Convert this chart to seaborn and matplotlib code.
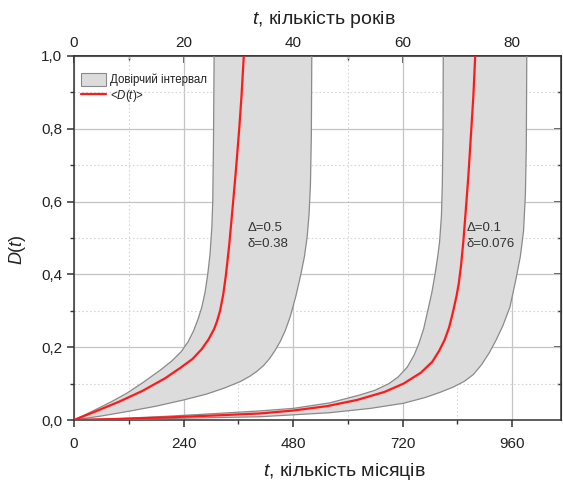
import matplotlib
matplotlib.use('Agg')
import numpy as np
import pandas as pd
import seaborn as sns
import matplotlib.pyplot as plt
from matplotlib.patches import Patch
from matplotlib.lines import Line2D
from matplotlib.ticker import MultipleLocator, FixedLocator, FuncFormatter, NullFormatter

# ---------------- data ----------------
# Delta = 0.5 curve (months, D)
mean1_t = [0, 50, 100, 150, 200, 235, 260, 280, 295, 307, 313, 320, 327, 333, 340, 348, 355, 362, 367, 372]
mean1_d = [0, 0.025, 0.051, 0.08, 0.115, 0.145, 0.168, 0.195, 0.222, 0.25, 0.27, 0.3, 0.345, 0.4, 0.48, 0.59, 0.69, 0.8, 0.89, 1.0]
upper1_t = [0, 40, 80, 115, 150, 189, 215, 235, 250, 262, 272, 280, 287, 293, 298, 302, 304, 305.5, 307]
upper1_d = [0, 0.024, 0.049, 0.073, 0.102, 0.137, 0.163, 0.188, 0.215, 0.245, 0.278, 0.31, 0.35, 0.4, 0.455, 0.53, 0.6, 0.75, 1.0]
lower1_t = [0, 60, 120, 180, 240, 290, 330, 365, 385, 400, 415, 428, 440, 452, 463, 474, 486, 497, 505, 511, 515, 518, 520, 521]
lower1_d = [0, 0.011, 0.024, 0.038, 0.055, 0.071, 0.088, 0.106, 0.12, 0.133, 0.149, 0.168, 0.19, 0.216, 0.246, 0.285, 0.34, 0.4, 0.45, 0.505, 0.565, 0.645, 0.78, 1.0]

# Delta = 0.1 curve
mean2_t = [0, 100, 200, 300, 408, 480, 554, 620, 680, 722, 760, 785, 800, 812, 822, 830, 838, 843, 848, 853, 858, 864, 870, 875, 879]
mean2_d = [0, 0.003, 0.007, 0.012, 0.018, 0.026, 0.038, 0.055, 0.077, 0.1, 0.13, 0.16, 0.19, 0.22, 0.255, 0.295, 0.34, 0.375, 0.425, 0.49, 0.57, 0.67, 0.79, 0.89, 1.0]
upper2_t = [0, 100, 200, 300, 408, 481, 560, 627, 660, 690, 710, 730, 745, 755, 766, 775, 784, 791, 797, 801, 805, 807, 808.5, 809]
upper2_d = [0, 0.004, 0.01, 0.017, 0.025, 0.032, 0.047, 0.069, 0.082, 0.1, 0.118, 0.145, 0.178, 0.208, 0.25, 0.3, 0.35, 0.4, 0.45, 0.49, 0.56, 0.65, 0.8, 1.0]
lower2_t = [0, 200, 408, 560, 650, 722, 770, 802, 830, 855, 875, 893, 910, 925, 940, 955, 968, 978, 985, 989, 991, 992]
lower2_d = [0, 0.004, 0.009, 0.02, 0.032, 0.046, 0.062, 0.076, 0.09, 0.106, 0.125, 0.152, 0.185, 0.22, 0.26, 0.31, 0.385, 0.45, 0.52, 0.62, 0.75, 1.0]

annot_text = ["\u0394=0.5\n\u03b4=0.38", "\u0394=0.1\n\u03b4=0.076"]
annot_x = [381, 861]
annot_y = [0.505, 0.505]

legend_labels = ["Довірчий інтервал", "<$D(t)$>"]
years_major = [0, 20, 40, 60, 80]
years_minor = [10, 30, 50, 70]

# ---------------- style ----------------
sns.set_style('white')
plt.rcParams['font.family'] = ['Liberation Sans', 'DejaVu Sans']
plt.rcParams['mathtext.fontset'] = 'custom'
plt.rcParams['mathtext.rm'] = 'Liberation Sans'
plt.rcParams['mathtext.it'] = 'Liberation Sans:italic'

fig = plt.figure(figsize=(5.63, 4.82), dpi=100)
ax = fig.add_axes([74/563, 1-420/482, (561-74)/563, (420-56)/482])

band_face = '#dcdcdc'
band_edge = '#8a8a8a'
red = '#ff1a1a'
dark = '#222222'

for ut, ud, lt, ld in [(upper1_t, upper1_d, lower1_t, lower1_d),
                       (upper2_t, upper2_d, lower2_t, lower2_d)]:
    px = list(ut) + list(lt[::-1])
    py = list(ud) + list(ld[::-1])
    ax.fill(px, py, facecolor=band_face, edgecolor='none', zorder=2)
    ax.plot(ut, ud, color=band_edge, lw=0.9, zorder=3)
    ax.plot(lt, ld, color=band_edge, lw=0.9, zorder=3)

for mt, md in [(mean1_t, mean1_d), (mean2_t, mean2_d)]:
    df = pd.DataFrame({'t': mt, 'D': md})
    sns.lineplot(data=df, x='t', y='D', ax=ax, color=red, lw=1.6,
                 zorder=4, sort=False, estimator=None)

for txt, x, y in zip(annot_text, annot_x, annot_y):
    ax.text(x, y, txt, fontsize=9.5, color='#333333', ha='left', va='center',
            linespacing=1.45, zorder=5)

ax.set_xlim(0, 1067)
ax.set_ylim(0, 1.0)

ax.xaxis.set_major_locator(MultipleLocator(240))
ax.xaxis.set_minor_locator(MultipleLocator(120))
ax.yaxis.set_major_locator(MultipleLocator(0.2))
ax.yaxis.set_minor_locator(MultipleLocator(0.1))
ax.yaxis.set_major_formatter(FuncFormatter(lambda v, p: f"{v:.1f}".replace('.', ',')))

ax.grid(which='major', color='#c4c4c4', lw=0.9, ls='-', zorder=0)
ax.grid(which='minor', color='#d6d6d6', lw=0.8, ls=(0, (1.5, 2)), zorder=0)
ax.set_axisbelow(True)

for s in ax.spines.values():
    s.set_color('#333333')
    s.set_linewidth(1.1)

ax.tick_params(which='major', direction='out', length=5, width=1.1,
               color='#333333', labelsize=11, labelcolor=dark,
               bottom=True, left=True, top=False, right=False)
ax.tick_params(axis='x', which='major', pad=7)
ax.tick_params(which='minor', direction='out', length=3, width=1.0,
               color='#333333', bottom=True, left=True, top=False, right=False)

ax.set_xlabel("$t$, кількість місяців", fontsize=14, color=dark)
ax.set_ylabel("$D(t)$", fontsize=13, color=dark)
ax.xaxis.set_label_coords(0.556, -0.112)
ax.yaxis.set_label_coords(-0.094, 0.467)

# top axis in years
secx = ax.secondary_xaxis('top', functions=(lambda m: m / 12.0, lambda y: y * 12.0))
secx.xaxis.set_major_locator(FixedLocator(years_major))
secx.xaxis.set_minor_locator(FixedLocator(years_minor))
secx.xaxis.set_minor_formatter(NullFormatter())
secx.tick_params(which='major', direction='in', length=5, width=1.1, color='#333333',
                 labelsize=11, labelcolor=dark, pad=4)
secx.tick_params(which='minor', direction='in', length=3, width=1.0, color='#333333')
secx.spines['top'].set_color('#333333')
secx.spines['top'].set_linewidth(1.1)
secx.set_xlabel("$t$, кількість років", fontsize=14, color=dark, labelpad=9)
secx.xaxis.label.set_x(0.513)

# right axis ticks (inward, no labels)
secy = ax.secondary_yaxis('right')
secy.yaxis.set_major_locator(FixedLocator([0.2, 0.4, 0.6, 0.8]))
secy.yaxis.set_minor_locator(FixedLocator([0.1, 0.3, 0.5, 0.7, 0.9]))
secy.yaxis.set_major_formatter(NullFormatter())
secy.yaxis.set_minor_formatter(NullFormatter())
secy.tick_params(which='major', direction='in', length=5, width=1.1, color='#333333', labelright=False)
secy.tick_params(which='minor', direction='in', length=3, width=1.0, color='#333333', labelright=False)
secy.spines['right'].set_color('#333333')

handles = [Patch(facecolor=band_face, edgecolor=band_edge, lw=0.8),
           Line2D([0], [0], color=red, lw=1.6)]
leg = ax.legend(handles, legend_labels, loc='upper left', bbox_to_anchor=(0.005, 0.965),
                frameon=False, fontsize=8.3, handlelength=2.2, handleheight=1.25,
                handletextpad=0.3, labelspacing=0.15, borderaxespad=0)
for t in leg.get_texts():
    t.set_color(dark)

fig.savefig('out.png', dpi=100)
